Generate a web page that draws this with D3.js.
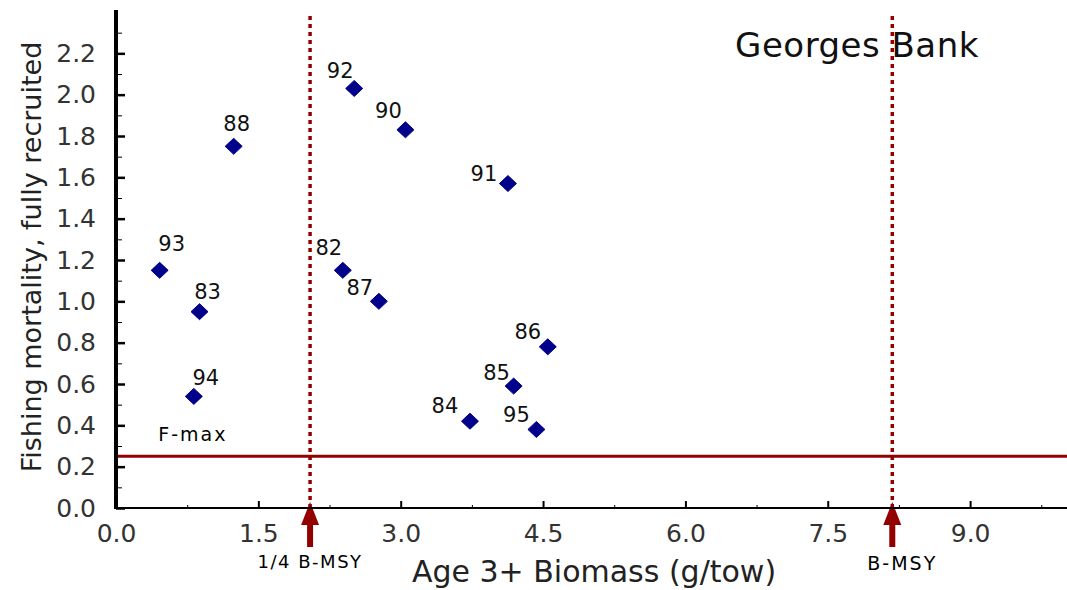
<!DOCTYPE html>
<html>
<head>
<meta charset="utf-8">
<script src="https://cdn.jsdelivr.net/npm/d3@7"></script>
<style>
  body { margin: 0; background: #fff; }
  text { font-family: "DejaVu Sans", sans-serif; }
</style>
</head>
<body>
<script>
// data
var years = ["82", "83", "84", "85", "86", "87", "88", "90", "91", "92", "93", "94", "95"];
var biomass = [2.39, 0.88, 3.73, 4.19, 4.55, 2.77, 1.24, 3.05, 4.13, 2.51, 0.46, 0.82, 4.43];
var fMort = [1.15, 0.95, 0.42, 0.59, 0.78, 1.00, 1.75, 1.83, 1.57, 2.03, 1.15, 0.54, 0.38];
// where each year label sits, relative to its point
var labelNudge = [[-14, -23], [8, -20], [-25, -16], [-17, -14], [-20, -15], [-19, -14], [3, -23],
  [-17, -19], [-24, -10], [-14, -18], [12, -27], [12, -19], [-20, -15]];

var xTicks = [0, 1.5, 3, 4.5, 6, 7.5, 9];
var yTicks = [0, 0.2, 0.4, 0.6, 0.8, 1.0, 1.2, 1.4, 1.6, 1.8, 2.0, 2.2];
var fMax = 0.25;
var bMsy = 8.18;
var quarterBMsy = bMsy / 4;

var svgWidth = 1067;
var svgHeight = 590;
var red = "#930000";

var svg = d3.select("body").append("svg")
  .attr("width", svgWidth)
  .attr("height", svgHeight);

var x = d3.scaleLinear().domain([0, 10]).range([116, 1065]);
var y = d3.scaleLinear().domain([0, 2.4]).range([508, 12]);

// F-max line
svg.append("line")
  .attr("x1", x(0)).attr("x2", svgWidth)
  .attr("y1", y(fMax)).attr("y2", y(fMax))
  .attr("stroke", red).attr("stroke-width", 3);

// dotted reference lines + arrows
[quarterBMsy, bMsy].forEach(function(v) {
  svg.append("line")
    .attr("x1", x(v)).attr("x2", x(v))
    .attr("y1", 16).attr("y2", y(0))
    .attr("stroke", red).attr("stroke-width", 3.5)
    .attr("stroke-dasharray", "4,4");
  var cx = x(v);
  svg.append("rect")
    .attr("x", cx - 3).attr("y", 520).attr("width", 6).attr("height", 27)
    .attr("fill", red);
  svg.append("path")
    .attr("d", `M${cx},502 L${cx + 9},525 L${cx - 9},525 Z`)
    .attr("fill", red);
});

// axes
var xAxis = d3.axisBottom(x).tickValues(xTicks).tickSizeInner(-7).tickSizeOuter(0)
  .tickPadding(16).tickFormat(d3.format(".1f"));
var xMinor = d3.axisBottom(x).tickValues(d3.range(0.75, 10, 1.5)).tickSizeInner(-3)
  .tickSizeOuter(0).tickFormat("");
var yAxis = d3.axisLeft(y).tickValues(yTicks).tickSizeInner(-9).tickSizeOuter(0)
  .tickPadding(20).tickFormat(d3.format(".1f"));
var yMinor = d3.axisLeft(y).tickValues(d3.range(0.1, 2.4, 0.2)).tickSizeInner(-6)
  .tickSizeOuter(0).tickFormat("");

var gx = svg.append("g").attr("transform", `translate(0, ${y(0)})`).call(xAxis);
svg.append("g").attr("transform", `translate(0, ${y(0)})`).call(xMinor)
  .select(".domain").remove();
gx.select(".domain").attr("d", `M${x(0)},0H${svgWidth}`).attr("stroke-width", 2);
gx.selectAll(".tick line").attr("stroke-width", 2);
gx.selectAll("text").attr("font-size", 25).attr("fill", "#333")
  .attr("font-family", "DejaVu Sans");

var gy = svg.append("g").attr("transform", `translate(${x(0)}, 0)`).call(yAxis);
svg.append("g").attr("transform", `translate(${x(0)}, 0)`).call(yMinor)
  .select(".domain").remove();
gy.select(".domain").attr("d", "M0,10V509").attr("stroke-width", 4);
gy.selectAll(".tick line").attr("stroke-width", 2.5);
gy.selectAll("text").attr("font-size", 25).attr("fill", "#333")
  .attr("font-family", "DejaVu Sans");

// points
var diamond = "M0,-8 L8.5,0 L0,8 L-8.5,0 Z";
svg.selectAll(".pt")
  .data(years)
  .enter()
  .append("path")
  .attr("class", "pt")
  .attr("d", diamond)
  .attr("stroke", "#00008b")
  .attr("stroke-width", 1)
  .attr("stroke-linejoin", "round")
  .attr("transform", (d, i) => `translate(${x(biomass[i])}, ${y(fMort[i])})`)
  .attr("fill", "#00008b");

svg.selectAll(".yr")
  .data(years)
  .enter()
  .append("text")
  .attr("class", "yr")
  .attr("x", (d, i) => x(biomass[i]) + labelNudge[i][0])
  .attr("y", (d, i) => y(fMort[i]) + labelNudge[i][1])
  .attr("dy", "0.36em")
  .attr("text-anchor", "middle")
  .attr("font-size", 21)
  .attr("fill", "#111")
  .text(d => d);

// annotations
svg.append("text")
  .attr("x", x(0.81)).attr("y", y(fMax) - 22).attr("dy", "0.36em")
  .attr("text-anchor", "middle").attr("font-size", 19).attr("letter-spacing", 2)
  .text("F-max");

svg.append("text")
  .attr("x", x(quarterBMsy)).attr("y", 562).attr("dy", "0.36em")
  .attr("text-anchor", "middle").attr("font-size", 18).attr("letter-spacing", 1.5)
  .text("1/4 B-MSY");

svg.append("text")
  .attr("x", x(bMsy) + 10).attr("y", 563).attr("dy", "0.36em")
  .attr("text-anchor", "middle").attr("font-size", 19).attr("letter-spacing", 2)
  .text("B-MSY");

svg.append("text")
  .attr("x", 857).attr("y", 57)
  .attr("text-anchor", "middle").attr("font-size", 34).attr("letter-spacing", 0.5)
  .attr("fill", "#111")
  .text("Georges Bank");

svg.append("text")
  .attr("x", 594).attr("y", 582)
  .attr("text-anchor", "middle").attr("font-size", 30)
  .attr("fill", "#222")
  .text("Age 3+ Biomass (g/tow)");

svg.append("text")
  .attr("transform", "rotate(-90)")
  .attr("x", -257).attr("y", 41)
  .attr("text-anchor", "middle").attr("font-size", 27)
  .attr("fill", "#222")
  .text("Fishing mortality, fully recruited");
</script>
</body>
</html>
